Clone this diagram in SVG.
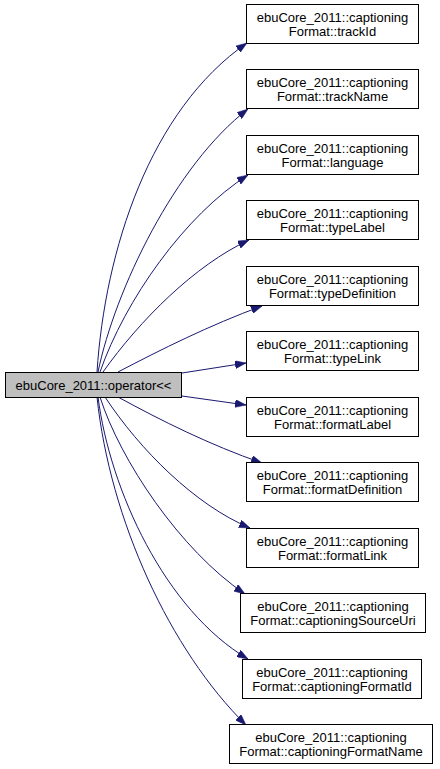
<svg xmlns="http://www.w3.org/2000/svg" width="440" height="769" viewBox="0 0 440 769">
<style>
  .bg { fill: #ffffff; }
  .node rect { fill: #ffffff; stroke: #000000; stroke-width: 1; }
  .node.main rect { fill: #bfbfbf; }
  .node text { font-family: "Liberation Sans", Arial, sans-serif; font-size: 13px; fill: #000000; text-anchor: middle; }
  .edges path { fill: none; stroke: #191970; stroke-width: 1; marker-end: url(#arrow); }
</style>
<defs>
  <marker id="arrow" markerUnits="userSpaceOnUse" viewBox="0 0 11 8" markerWidth="11" markerHeight="8" refX="11" refY="4" orient="auto">
    <path d="M0,0 L11,4 L0,8 z" fill="#191970" stroke="#191970" stroke-width="0.5"/>
  </marker>
</defs>
<rect class="bg" x="0" y="0" width="440" height="769"/>

<g id="edges" class="edges">
  <path d="M97,372 C105,250 150,110 247,43"/>
  <path d="M98,372 C115,290 175,165 248,109"/>
  <path d="M100,372 C125,300 185,215 248,175"/>
  <path d="M103,372 C140,320 195,265 249,240"/>
  <path d="M118,372 C160,350 210,325 262,306"/>
  <path d="M182,373 L246,363"/>
  <path d="M182,396 L246,405"/>
  <path d="M118,397 C160,420 210,445 262,463"/>
  <path d="M105,397 C140,450 195,505 250,528"/>
  <path d="M100,397 C120,460 180,550 245,594"/>
  <path d="M98,397 C110,490 165,610 248,659"/>
  <path d="M97,397 C110,520 170,650 246,725"/>
</g>

<g id="node-main" class="node main">
  <rect x="5.5" y="372.5" width="176" height="25"/>
  <text x="93.5" y="389.5">ebuCore_2011::operator&lt;&lt;</text>
</g>

<g id="node-trackId" class="node">
  <rect x="246.5" y="4.5" width="172" height="39"/>
  <text x="332.5" y="22">ebuCore_2011::captioning</text>
  <text x="332.5" y="36">Format::trackId</text>
</g>
<g id="node-trackName" class="node">
  <rect x="246.5" y="69.5" width="172" height="39"/>
  <text x="332.5" y="87">ebuCore_2011::captioning</text>
  <text x="332.5" y="101">Format::trackName</text>
</g>
<g id="node-language" class="node">
  <rect x="246.5" y="135.5" width="172" height="39"/>
  <text x="332.5" y="153">ebuCore_2011::captioning</text>
  <text x="332.5" y="167">Format::language</text>
</g>
<g id="node-typeLabel" class="node">
  <rect x="246.5" y="200.5" width="172" height="39"/>
  <text x="332.5" y="218">ebuCore_2011::captioning</text>
  <text x="332.5" y="232">Format::typeLabel</text>
</g>
<g id="node-typeDefinition" class="node">
  <rect x="246.5" y="266.5" width="172" height="39"/>
  <text x="332.5" y="284">ebuCore_2011::captioning</text>
  <text x="332.5" y="298">Format::typeDefinition</text>
</g>
<g id="node-typeLink" class="node">
  <rect x="246.5" y="331.5" width="172" height="39"/>
  <text x="332.5" y="349">ebuCore_2011::captioning</text>
  <text x="332.5" y="363">Format::typeLink</text>
</g>
<g id="node-formatLabel" class="node">
  <rect x="246.5" y="397.5" width="172" height="39"/>
  <text x="332.5" y="415">ebuCore_2011::captioning</text>
  <text x="332.5" y="429">Format::formatLabel</text>
</g>
<g id="node-formatDefinition" class="node">
  <rect x="246.5" y="462.5" width="172" height="39"/>
  <text x="332.5" y="480">ebuCore_2011::captioning</text>
  <text x="332.5" y="494">Format::formatDefinition</text>
</g>
<g id="node-formatLink" class="node">
  <rect x="246.5" y="528.5" width="172" height="39"/>
  <text x="332.5" y="546">ebuCore_2011::captioning</text>
  <text x="332.5" y="560">Format::formatLink</text>
</g>
<g id="node-captioningSourceUri" class="node">
  <rect x="240.5" y="593.5" width="185" height="39"/>
  <text x="333" y="611">ebuCore_2011::captioning</text>
  <text x="333" y="625">Format::captioningSourceUri</text>
</g>
<g id="node-captioningFormatId" class="node">
  <rect x="242.5" y="659.5" width="179" height="39"/>
  <text x="332" y="677">ebuCore_2011::captioning</text>
  <text x="332" y="691">Format::captioningFormatId</text>
</g>
<g id="node-captioningFormatName" class="node">
  <rect x="229.5" y="724.5" width="203" height="39"/>
  <text x="331" y="742">ebuCore_2011::captioning</text>
  <text x="331" y="756">Format::captioningFormatName</text>
</g>
</svg>
